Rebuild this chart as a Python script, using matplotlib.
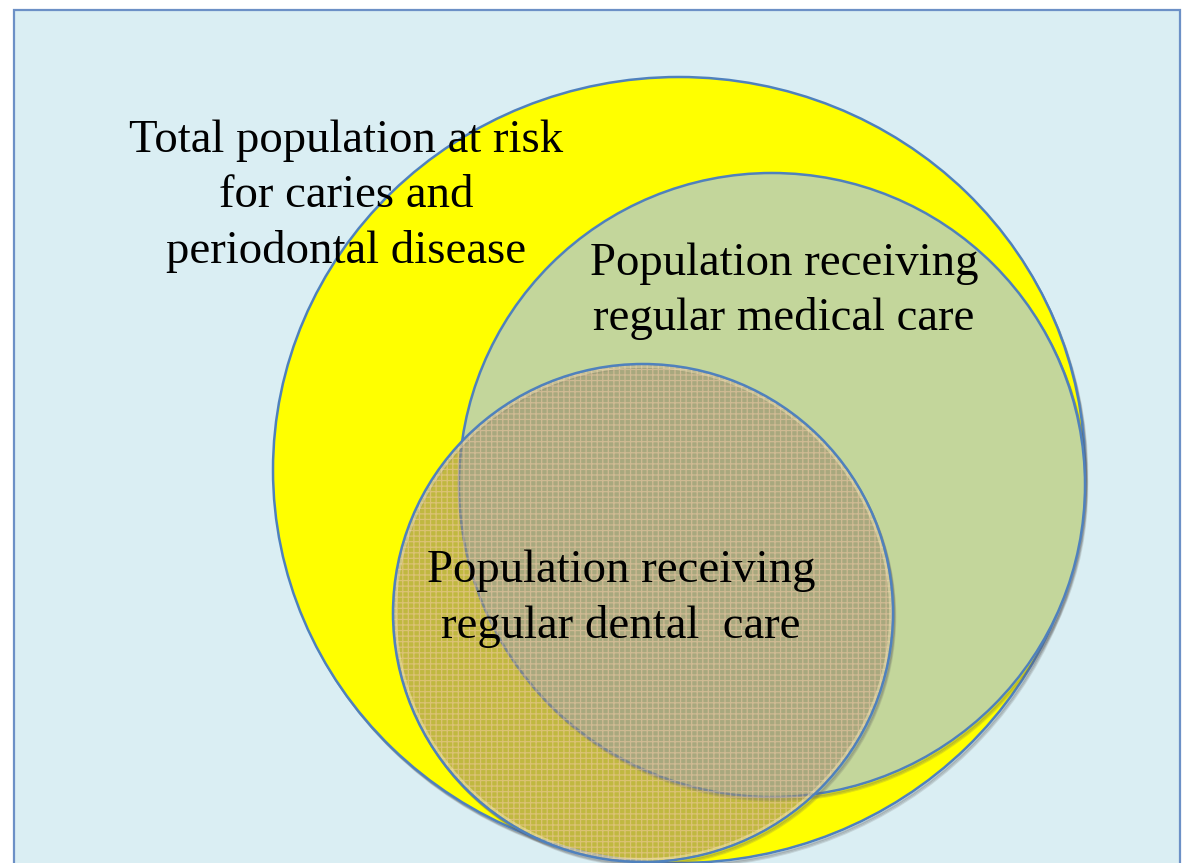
import matplotlib
matplotlib.use("Agg")
import matplotlib.pyplot as plt
from matplotlib.patches import Ellipse, Rectangle

# --- datos: los tres conjuntos anidados ---
set_names = ["total", "medical", "dental"]
label_total = ["Total population at risk", "for caries and", "periodontal disease"]
label_medical = ["Population receiving", "regular medical care"]
label_dental = ["Population receiving", "regular dental  care"]

# --- geometría (en píxeles de la imagen, eje y hacia abajo) ---
centers = {"total": (679, 470), "medical": (772, 485), "dental": (643, 613)}
radii = {"total": (406, 393), "medical": (313, 312), "dental": (250, 249)}
fills = {"total": "#FFFF00", "medical": "#C3D69B", "dental": (150/255, 138/255, 108/255)}

W, H = 1184, 863
fig = plt.figure(figsize=(W / 100, H / 100), dpi=100)
ax = fig.add_axes([0, 0, 1, 1])
ax.set_xlim(0, W)
ax.set_ylim(H, 0)
ax.set_aspect("equal")
ax.axis("off")

# marco de fondo
ax.add_patch(Rectangle((14, 10), 1166, 880, facecolor="#DAEEF3",
                       edgecolor="#6C90C6", linewidth=1.6, zorder=0))

edge_col = "#4F81BD"
z = 1
for name in set_names:
    cx, cy = centers[name]
    rx, ry = radii[name]
    # sombra suave abajo a la derecha
    for k, a in [(4, 0.18), (3, 0.25), (2, 0.35)]:
        ax.add_patch(Ellipse((cx + k * 0.6, cy + k), 2 * rx, 2 * ry,
                             facecolor="none", edgecolor="#606060",
                             linewidth=1.2, alpha=a, zorder=z))
    if name == "dental":
        ax.add_patch(Ellipse((cx, cy), 2 * rx, 2 * ry, facecolor=fills[name],
                             alpha=0.6, linewidth=0, zorder=z + 1))
        plt.rcParams["hatch.linewidth"] = 0.9
        ax.add_patch(Ellipse((cx, cy), 2 * rx, 2 * ry, facecolor="none",
                             edgecolor=(0.97, 0.80, 0.66, 0.5), hatch="+++",
                             linewidth=0, zorder=z + 2))
        ax.add_patch(Ellipse((cx, cy), 2 * rx - 5, 2 * ry - 5, facecolor="none",
                             edgecolor=(0.95, 0.90, 0.70, 0.5),
                             linewidth=2.0, zorder=z + 3))
    else:
        ax.add_patch(Ellipse((cx, cy), 2 * rx, 2 * ry, facecolor=fills[name],
                             linewidth=0, zorder=z + 1))
    ax.add_patch(Ellipse((cx, cy), 2 * rx, 2 * ry, facecolor="none",
                         edgecolor=edge_col, linewidth=1.8, zorder=z + 4))
    z += 5

font = dict(family="Liberation Serif", fontsize=33.7, color="black",
            ha="center", va="baseline", zorder=50)

for line, y in zip(label_total, [152, 207, 263]):
    ax.text(346, y, line, **font)
for line, y in zip(label_medical, [275, 330]):
    ax.text(784, y, line, **font)
for line, y in zip(label_dental, [582, 638]):
    ax.text(621, y, line, **font)

fig.savefig("out.png", dpi=100, facecolor="white")
